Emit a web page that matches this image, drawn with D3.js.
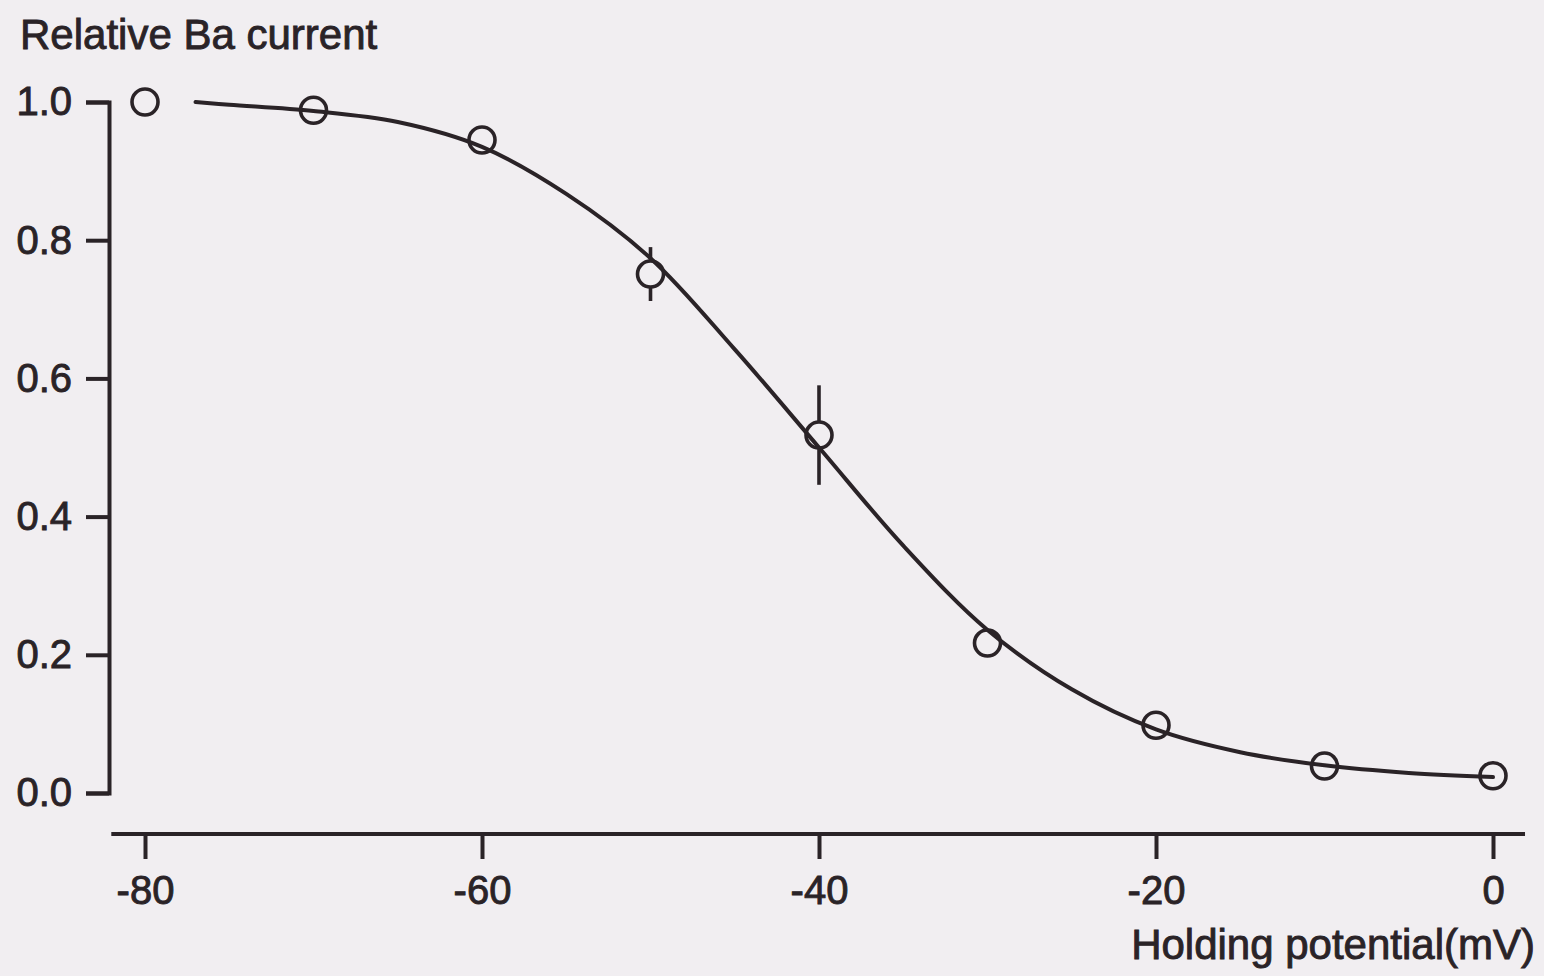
<!DOCTYPE html>
<html>
<head>
<meta charset="utf-8">
<script src="https://cdn.jsdelivr.net/npm/d3@7/dist/d3.min.js"></script>
<style>
  html, body { margin: 0; padding: 0; background: #f1eef1; }
  svg { display: block; }
  text { font-family: "Liberation Sans", Arial, Helvetica, sans-serif; fill: #2a2327; stroke: #2a2327; stroke-width: 0.9px; }
</style>
</head>
<body>
<svg id="chart" width="1544" height="976"></svg>
<script>
// Holding potential (mV) at which each test was made
const holdingPotential = [-80, -70, -60, -50, -40, -30, -20, -10, 0];
// Mean relative Ba current at each holding potential
const relativeCurrent = [1.0, 0.988, 0.945, 0.751, 0.518, 0.217, 0.098, 0.039, 0.025];
// Error (± SEM); zero where no bar is drawn
const currentError = [0, 0, 0, 0.039, 0.072, 0, 0, 0, 0];

// Fitted inactivation curve, sampled along its length
const fitPotential = [-77, -75, -70, -65, -60, -55, -50, -45, -40, -35, -30, -25, -20, -15, -10, -5, 0];
const fitCurrent   = [1.0, 0.996, 0.987, 0.971, 0.935, 0.867, 0.774, 0.642, 0.500, 0.358, 0.236, 0.150, 0.092, 0.059, 0.040, 0.029, 0.023];

// Axis ticks and the extent of the horizontal axis line
const xTicks = [-80, -60, -40, -20, 0];
const yTicks = [0, 0.2, 0.4, 0.6, 0.8, 1.0];
const xAxisExtent = [-82, 1.9];

const ink = "#2a2327";
const lineWidth = 4;

const svg = d3.select("#chart");

const x = d3.scaleLinear().domain([-80, 0]).range([145, 1493]);
const y = d3.scaleLinear().domain([0, 1]).range([793, 102]);

// Y axis: the bracket-shaped domain comes from the outer ticks
const yAxis = svg.append("g")
  .attr("transform", "translate(109,0)")
  .call(d3.axisLeft(y).tickValues(yTicks).tickFormat(d => d.toFixed(1))
    .tickSize(23).tickSizeOuter(23).tickPadding(14));
yAxis.select(".domain").attr("stroke", ink).attr("stroke-width", lineWidth).attr("fill", "none");
yAxis.selectAll(".tick line").attr("stroke", ink).attr("stroke-width", lineWidth);
yAxis.selectAll(".tick text").attr("font-size", 40).attr("fill", ink);

// X axis with a line that runs past the end ticks; labels use a plain hyphen
const xAxisY = 834;
const xAxis = svg.append("g")
  .attr("transform", `translate(0,${xAxisY})`)
  .call(d3.axisBottom(x).tickValues(xTicks).tickFormat(d => String(d))
    .tickSize(25).tickSizeOuter(0).tickPadding(17));
xAxis.select(".domain").remove();
xAxis.append("line")
  .attr("x1", x(xAxisExtent[0])).attr("x2", x(xAxisExtent[1]))
  .attr("y1", 0).attr("y2", 0)
  .attr("stroke", ink).attr("stroke-width", lineWidth);
xAxis.selectAll(".tick line").attr("stroke", ink).attr("stroke-width", lineWidth);
xAxis.selectAll(".tick text").attr("font-size", 40).attr("fill", ink);

// Axis titles
svg.append("text")
  .attr("x", 20).attr("y", 49)
  .attr("font-size", 42)
  .text("Relative Ba current");
svg.append("text")
  .attr("x", 1535).attr("y", 959)
  .attr("text-anchor", "end")
  .attr("font-size", 42)
  .text("Holding potential(mV)");

// Fitted curve
const fitData = fitPotential.map((v, i) => [v, fitCurrent[i]]);
svg.append("path")
  .datum(fitData)
  .attr("fill", "none")
  .attr("stroke", ink)
  .attr("stroke-width", lineWidth)
  .attr("stroke-linecap", "round")
  .attr("d", d3.line().x(d => x(d[0])).y(d => y(d[1])).curve(d3.curveCatmullRom.alpha(0.5)));

// Data points: open circles with error bars outside the circle
const r = 13;
const points = holdingPotential.map((v, i) => ({ v, c: relativeCurrent[i], e: currentError[i] }));

const bars = svg.append("g").attr("stroke", ink).attr("stroke-width", 3.6);
points.filter(d => d.e > 0).forEach(d => {
  bars.append("line")
    .attr("x1", x(d.v)).attr("x2", x(d.v))
    .attr("y1", y(d.c + d.e)).attr("y2", y(d.c) - r);
  bars.append("line")
    .attr("x1", x(d.v)).attr("x2", x(d.v))
    .attr("y1", y(d.c) + r).attr("y2", y(d.c - d.e));
});

svg.append("g")
  .selectAll("circle")
  .data(points)
  .join("circle")
  .attr("cx", d => x(d.v))
  .attr("cy", d => y(d.c))
  .attr("r", r)
  .attr("fill", "none")
  .attr("stroke", ink)
  .attr("stroke-width", 3.6);
</script>
</body>
</html>
